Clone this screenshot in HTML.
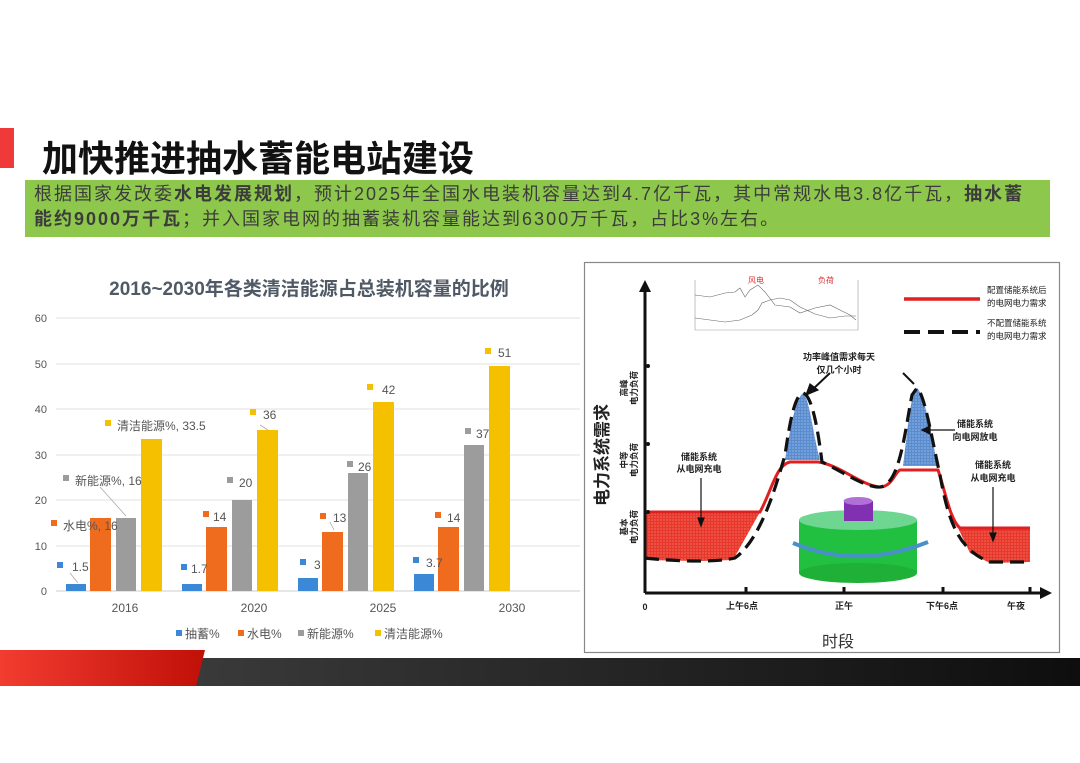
<!DOCTYPE html>
<html><head><meta charset="utf-8"><style>
body{margin:0;width:1080px;height:763px;background:#fff;position:relative;overflow:hidden;font-family:"Liberation Sans","Noto Sans CJK SC",sans-serif}
.a{position:absolute}
</style></head><body>
<div class="a" style="left:0;top:128px;width:14px;height:40px;background:#f03a3a"></div>
<div class="a" style="left:42px;top:130px;font-size:36px;font-weight:bold;color:#111;letter-spacing:0px">加快推进抽水蓄能电站建设</div>
<div class="a" style="left:25px;top:180px;width:1025px;height:57px;background:#8dc74c"></div>
<div class="a" style="left:34px;top:182px;font-size:18px;letter-spacing:2px;line-height:25px;color:#3c3c3c;white-space:nowrap">根据国家发改委<b>水电发展规划</b>，预计2025年全国水电装机容量达到4.7亿千瓦，其中常规水电3.8亿千瓦，<b>抽水蓄</b><br><b>能约9000万千瓦</b>；并入国家电网的抽蓄装机容量能达到6300万千瓦，占比3%左右。</div>

<svg class="a" style="left:0;top:0" width="1080" height="763" font-family="Liberation Sans, Noto Sans CJK SC, sans-serif">
<defs>
<linearGradient id="dk" x1="0" x2="1"><stop offset="0" stop-color="#3a3a3a"/><stop offset="1" stop-color="#0e0e0e"/></linearGradient>
<linearGradient id="rd" x1="0" x2="1"><stop offset="0" stop-color="#f23c30"/><stop offset="1" stop-color="#c01008"/></linearGradient>
<pattern id="dots" width="3" height="3" patternUnits="userSpaceOnUse"><rect width="3" height="3" fill="#e8382c"/><circle cx="1" cy="1" r=".6" fill="#f58a7a"/></pattern>
<pattern id="bdots" width="3" height="3" patternUnits="userSpaceOnUse"><rect width="3" height="3" fill="#5a8cd0"/><circle cx="1" cy="1" r=".6" fill="#b8d0f0"/></pattern>
</defs>
<rect x="190" y="658" width="890" height="28" fill="url(#dk)"/>
<polygon points="0,650 205,650 196,686 0,686" fill="url(#rd)"/>

<text x="309" y="295" text-anchor="middle" font-size="19" font-weight="bold" fill="#505a66">2016~2030年各类清洁能源占总装机容量的比例</text>
<g stroke="#e2e2e2" stroke-width="1">
<line x1="56" y1="318" x2="580" y2="318"/><line x1="56" y1="364" x2="580" y2="364"/><line x1="56" y1="409" x2="580" y2="409"/><line x1="56" y1="455" x2="580" y2="455"/><line x1="56" y1="500" x2="580" y2="500"/><line x1="56" y1="546" x2="580" y2="546"/><line x1="56" y1="591" x2="580" y2="591" stroke="#ccc"/>
</g>
<g font-size="11" fill="#555" text-anchor="end">
<text x="47" y="322">60</text><text x="47" y="368">50</text><text x="47" y="413">40</text><text x="47" y="459">30</text><text x="47" y="504">20</text><text x="47" y="550">10</text><text x="47" y="595">0</text>
</g>
<g>
<rect x="66" y="584" width="20" height="7" fill="#3b88d6"/><rect x="90" y="518" width="21" height="73" fill="#ef6c1e"/><rect x="116" y="518" width="20" height="73" fill="#9c9c9c"/><rect x="141" y="439" width="21" height="152" fill="#f5c000"/>
<rect x="182" y="584" width="20" height="7" fill="#3b88d6"/><rect x="206" y="527" width="21" height="64" fill="#ef6c1e"/><rect x="232" y="500" width="20" height="91" fill="#9c9c9c"/><rect x="257" y="430" width="21" height="161" fill="#f5c000"/>
<rect x="298" y="578" width="20" height="13" fill="#3b88d6"/><rect x="322" y="532" width="21" height="59" fill="#ef6c1e"/><rect x="348" y="473" width="20" height="118" fill="#9c9c9c"/><rect x="373" y="402" width="21" height="189" fill="#f5c000"/>
<rect x="414" y="574" width="20" height="17" fill="#3b88d6"/><rect x="438" y="527" width="21" height="64" fill="#ef6c1e"/><rect x="464" y="445" width="20" height="146" fill="#9c9c9c"/><rect x="489" y="366" width="21" height="225" fill="#f5c000"/>
</g>
<g font-size="12" fill="#555">
<g fill="#3b88d6"><rect x="57" y="562" width="6" height="6"/><rect x="181" y="564" width="6" height="6"/><rect x="300" y="559" width="6" height="6"/><rect x="413" y="557" width="6" height="6"/></g>
<g fill="#ef6c1e"><rect x="51" y="520" width="6" height="6"/><rect x="203" y="511" width="6" height="6"/><rect x="320" y="513" width="6" height="6"/><rect x="435" y="512" width="6" height="6"/></g>
<g fill="#9c9c9c"><rect x="63" y="475" width="6" height="6"/><rect x="227" y="477" width="6" height="6"/><rect x="347" y="461" width="6" height="6"/><rect x="465" y="428" width="6" height="6"/></g>
<g fill="#f5c000"><rect x="105" y="420" width="6" height="6"/><rect x="250" y="409" width="6" height="6"/><rect x="367" y="384" width="6" height="6"/><rect x="485" y="348" width="6" height="6"/></g>
<text x="72" y="571">1.5</text><text x="63" y="530">水电%, 16</text><text x="75" y="485">新能源%, 16</text><text x="117" y="430">清洁能源%, 33.5</text>
<text x="191" y="573">1.7</text><text x="213" y="521">14</text><text x="239" y="487">20</text><text x="263" y="419">36</text>
<text x="314" y="569">3</text><text x="333" y="522">13</text><text x="358" y="471">26</text><text x="382" y="394">42</text>
<text x="426" y="567">3.7</text><text x="447" y="522">14</text><text x="476" y="438">37</text><text x="498" y="357">51</text>
</g>
<g stroke="#aaa" stroke-width="0.8" fill="none"><line x1="70" y1="573" x2="78" y2="583"/><line x1="100" y1="487" x2="126" y2="516"/><line x1="330" y1="522" x2="334" y2="530"/><line x1="260" y1="425" x2="268" y2="430"/></g>
<g font-size="12" fill="#555" text-anchor="middle"><text x="125" y="612">2016</text><text x="254" y="612">2020</text><text x="383" y="612">2025</text><text x="512" y="612">2030</text></g>
<g font-size="12" fill="#555">
<rect x="176" y="630" width="6" height="6" fill="#3b88d6"/><text x="185" y="638">抽蓄%</text>
<rect x="238" y="630" width="6" height="6" fill="#ef6c1e"/><text x="247" y="638">水电%</text>
<rect x="298" y="630" width="6" height="6" fill="#9c9c9c"/><text x="307" y="638">新能源%</text>
<rect x="375" y="630" width="6" height="6" fill="#f5c000"/><text x="384" y="638">清洁能源%</text>
</g>

<rect x="584.5" y="262.5" width="475" height="390" fill="#fff" stroke="#888" stroke-width="1.2"/>
<g stroke="#999" stroke-width="0.6" fill="none">
<line x1="695" y1="280" x2="695" y2="330"/><line x1="695" y1="330" x2="858" y2="330"/><line x1="858" y1="280" x2="858" y2="330"/>
<polyline points="695,295 710,297 725,293 735,292 740,288 745,297 750,290 758,285 765,292 775,305 790,307 800,313 815,308 830,305 840,310 850,315 856,320" stroke="#666"/>
<polyline points="695,318 710,320 725,322 740,320 752,315 758,310 762,303 770,300 780,298 790,300 800,307 815,314 830,318 845,316 856,316" stroke="#666"/>
</g>
<text x="748" y="283" font-size="8" fill="#d33">风电</text><text x="818" y="283" font-size="8" fill="#d33">负荷</text>
<line x1="904" y1="299" x2="980" y2="299" stroke="#e02020" stroke-width="3.5"/>
<line x1="904" y1="332" x2="980" y2="332" stroke="#111" stroke-width="4" stroke-dasharray="16,8"/>
<g font-size="8.5" fill="#222"><text x="987" y="293">配置储能系统后</text><text x="987" y="306">的电网电力需求</text><text x="987" y="326">不配置储能系统</text><text x="987" y="339">的电网电力需求</text></g>
<path d="M645,512 L760,512 L733,560 L700,561 L645,560 Z" fill="url(#dots)"/>
<path d="M958,528 L1030,528 L1030,562 L990,563 L970,553 Z" fill="url(#dots)"/>
<path d="M785,460 L820,460 C812,430 810,400 803,393 C795,400 790,430 785,460 Z" fill="url(#bdots)"/>
<path d="M903,466 L938,466 C930,430 925,395 917,388 C910,395 908,430 903,466 Z" fill="url(#bdots)"/>
<path d="M645,512 L760,512 C772,490 776,465 790,462 L818,462 C840,465 860,485 880,487 C892,487 895,472 900,470 L938,470 C945,490 950,520 960,528 L1030,528" fill="none" stroke="#e02020" stroke-width="3"/>
<path d="M645,558 C680,562 720,562 735,558 C760,540 775,490 785,455 C790,420 795,395 803,393 C812,395 818,430 822,462 C840,470 865,488 880,487 C900,485 905,430 912,395 L917,388 C925,395 932,440 940,475 C948,520 958,550 990,562 L1030,562" fill="none" stroke="#111" stroke-width="3.2" stroke-dasharray="14,7"/>
<g stroke="#111" stroke-width="3" fill="#111">
<line x1="645" y1="593" x2="645" y2="290"/><polygon points="639,292 651,292 645,280" stroke="none"/>
<line x1="645" y1="593" x2="1042" y2="593"/><polygon points="1040,587 1040,599 1052,593" stroke="none"/>
<line x1="746" y1="587" x2="746" y2="593"/><line x1="844" y1="587" x2="844" y2="593"/><line x1="943" y1="587" x2="943" y2="593"/><line x1="1030" y1="587" x2="1030" y2="593"/>
</g>
<circle cx="648" cy="366" r="2" fill="#111"/><circle cx="648" cy="444" r="2" fill="#111"/><circle cx="648" cy="512" r="2" fill="#111"/>
<g font-size="9" fill="#222" text-anchor="middle" font-weight="bold">
<text x="645" y="610">0</text><text x="742" y="609">上午6点</text><text x="844" y="609">正午</text><text x="942" y="609">下午6点</text><text x="1016" y="609">午夜</text>
<text x="839" y="360">功率峰值需求每天</text><text x="839" y="373">仅几个小时</text>
<text x="699" y="460">储能系统</text><text x="699" y="472">从电网充电</text>
<text x="975" y="427">储能系统</text><text x="975" y="440">向电网放电</text>
<text x="993" y="468">储能系统</text><text x="993" y="481">从电网充电</text>
</g>
<g stroke="#111" stroke-width="1.2" fill="#111">
<line x1="701" y1="478" x2="701" y2="520"/><polygon points="698,518 704,518 701,526"/>
<line x1="993" y1="487" x2="993" y2="535"/><polygon points="990,533 996,533 993,541"/>
<line x1="830" y1="373" x2="812" y2="390" stroke-width="2"/><polygon points="810,384 818,390 806,395"/>
<line x1="903" y1="373" x2="914" y2="384" stroke-width="2"/>
<line x1="955" y1="430" x2="928" y2="430"/><polygon points="930,426 930,434 922,430"/>
</g>
<text x="608" y="455" font-size="17" font-weight="bold" fill="#222" transform="rotate(-90 608 455)" text-anchor="middle">电力系统需求</text>
<g font-size="8.5" fill="#222" font-weight="bold">
<text transform="translate(627,388) rotate(-90)" text-anchor="middle">高峰</text><text transform="translate(637,388) rotate(-90)" text-anchor="middle">电力负荷</text>
<text transform="translate(627,460) rotate(-90)" text-anchor="middle">中等</text><text transform="translate(637,460) rotate(-90)" text-anchor="middle">电力负荷</text>
<text transform="translate(627,527) rotate(-90)" text-anchor="middle">基本</text><text transform="translate(637,527) rotate(-90)" text-anchor="middle">电力负荷</text>
</g>
<text x="838" y="647" font-size="16" fill="#333" text-anchor="middle">时段</text>
<rect x="799" y="520" width="118" height="53" fill="#22c040"/>
<ellipse cx="858" cy="573" rx="59" ry="10" fill="#1fb038"/>
<ellipse cx="858" cy="520" rx="59" ry="10" fill="#6ed690"/>
<path d="M793,543 Q858,570 928,542" fill="none" stroke="#4a90c8" stroke-width="4"/>
<rect x="844" y="501" width="29" height="20" fill="#8030b0"/>
<ellipse cx="858" cy="501" rx="14.5" ry="4" fill="#b070d8"/>
</svg>
</body></html>
